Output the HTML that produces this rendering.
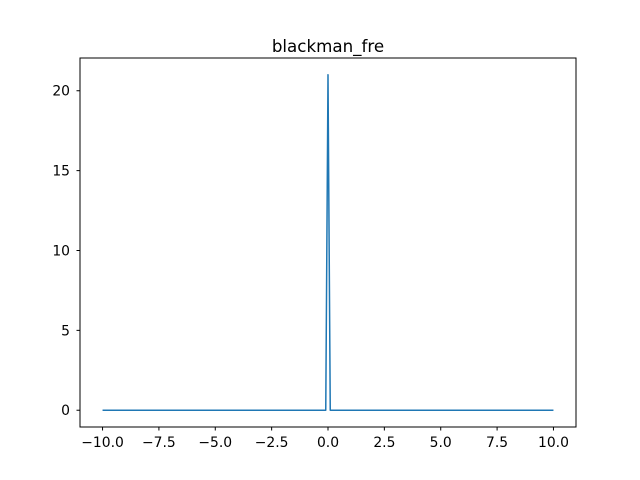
<!DOCTYPE html>
<html><head><meta charset="utf-8"><style>
body{margin:0;background:#fff}
svg{display:block;font-family:"DejaVu Sans","Liberation Sans",sans-serif}
</style></head><body>
<svg id="chart" width="640" height="480">
<rect x="0" y="0" width="640" height="480" fill="#fff"/>
<text x="328" y="52" text-anchor="middle" font-size="16.7">blackman_fre</text>
<g id="plot"></g>
<rect x="80" y="58" width="496" height="369" fill="none" stroke="#000" stroke-width="1"/>
</svg>
<script>
const xs = [-10, -0.1, 0, 0.1, 10];
const ys = [0, 0, 21, 0, 0];
const xTicks = [-10, -7.5, -5, -2.5, 0, 2.5, 5, 7.5, 10];
const xTickLabels = ["−10.0","−7.5","−5.0","−2.5","0.0","2.5","5.0","7.5","10.0"];
const yTicks = [0, 5, 10, 15, 20];
const yTickLabels = ["0","5","10","15","20"];

const L=80,R=576,T=58,B=427;
const xmin=-11,xmax=11,ymin=-1.05,ymax=22.05;
const sx=v=>L+(v-xmin)/(xmax-xmin)*(R-L);
const sy=v=>B-(v-ymin)/(ymax-ymin)*(B-T);
const NS="http://www.w3.org/2000/svg";
const g=document.getElementById('plot');
function mk(tag,attrs,txt){const e=document.createElementNS(NS,tag);for(const k in attrs)e.setAttribute(k,attrs[k]);if(txt!==undefined)e.textContent=txt;g.appendChild(e);return e;}
xTicks.forEach((t,i)=>{
  const x=sx(t);
  const tk=mk('line',{x1:x,x2:x,y1:B,y2:B+3.5,stroke:'#000'});
  
  
  const lb=mk('text',{x:x,y:B+20,'text-anchor':'middle','font-size':'13.9'},xTickLabels[i]);
  
  
});
yTicks.forEach((t,i)=>{
  const y=sy(t);
  const tk=mk('line',{x1:L-3.5,x2:L,y1:y,y2:y,stroke:'#000'});
  
  
  const lb=mk('text',{x:L-10,y:y+5,'text-anchor':'end','font-size':'13.9'},yTickLabels[i]);
  
  
});
const pts=xs.map((x,i)=>sx(x).toFixed(2)+','+sy(ys[i]).toFixed(2)).join(' ');
const line=mk('polyline',{points:pts,fill:'none',stroke:'#1f77b4','stroke-width':'1.5','stroke-linejoin':'round'});


</script>
</body></html>
